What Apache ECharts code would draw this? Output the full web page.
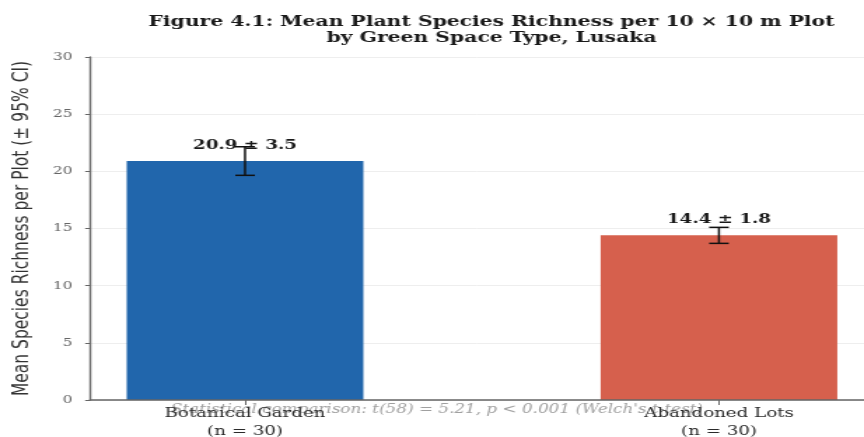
<!DOCTYPE html>
<html>
<head>
<meta charset="utf-8">
<script src="https://cdn.jsdelivr.net/npm/echarts@6/dist/echarts.min.js"></script>
<style>
  html, body { margin: 0; padding: 0; background: #fff; overflow: hidden; }
  /* the figure is laid out at 617px wide and widened to fill the 864px window */
  #chart { width: 617px; height: 437px; transform: scaleX(1.4003); transform-origin: 0 0; }
</style>
</head>
<body>
<div id="chart"></div>
<script>
// Green space types and plot counts
const categories = ['Botanical Garden', 'Abandoned Lots'];
const plotCounts = [30, 30];
// Mean species richness per plot, its SD (labelled) and 95% CI half-width (error bars)
const meanRichness = [20.9, 14.4];
const sdRichness = [3.5, 1.8];
const ciHalfWidth = [1.25, 0.7];
const barColors = ['#2166ac', '#d6604d'];
const yTicks = [0, 5, 10, 15, 20, 25, 30];
const statsNote = "Statistical comparison: t(58) = 5.21, p < 0.001 (Welch's t-test)";

const positions = categories.map((_, i) => i);
const barData = positions.map((x, i) => ({
  value: [x, meanRichness[i]],
  itemStyle: { color: barColors[i] }
}));
const errData = positions.map((x, i) => [x, meanRichness[i] - ciHalfWidth[i], meanRichness[i] + ciHalfWidth[i]]);

const serif = '"DejaVu Serif", serif';
const chart = echarts.init(document.getElementById('chart'));
chart.setOption({
  animation: false,
  backgroundColor: '#fff',
  title: {
    text: 'Figure 4.1: Mean Plant Species Richness per 10 × 10 m Plot\nby Green Space Type, Lusaka',
    left: 346,
    top: 9,
    textAlign: 'center',
    textStyle: { fontFamily: serif, fontWeight: 'bold', fontSize: 14.5, lineHeight: 16, color: '#1a1a1a' }
  },
  grid: { left: 64.3, right: 0, top: 57, bottom: 37, containLabel: false, outerBoundsMode: 'none' },
  xAxis: {
    type: 'value',
    min: -0.327,
    max: 1.306,
    z: 3,
    axisLine: { show: true, lineStyle: { color: '#666', width: 1.5 } },
    axisTick: { show: true, customValues: positions, length: 5, lineStyle: { color: '#666' } },
    axisLabel: {
      customValues: positions,
      formatter: v => categories[Math.round(v)] + '\n(n = ' + plotCounts[Math.round(v)] + ')',
      fontFamily: serif, fontSize: 13, lineHeight: 18, color: '#2a2a2a', margin: 5
    },
    splitLine: { show: false }
  },
  yAxis: {
    type: 'value',
    min: 0,
    max: 30,
    interval: 5,
    name: 'Mean Species Richness per Plot (± 95% CI)',
    nameLocation: 'middle',
    nameGap: 40,
    nameTextStyle: { fontFamily: '"DejaVu Sans", sans-serif', fontSize: 15.5, color: '#333' },
    axisLine: { show: true, onZero: false, lineStyle: { color: '#666', width: 1.4 } },
    axisTick: { show: true, length: 3.5, lineStyle: { color: '#666' } },
    axisLabel: {
      formatter: v => yTicks.includes(v) ? String(v) : '',
      fontFamily: serif, fontSize: 11, color: '#666', margin: 12.5
    },
    splitLine: { show: true, lineStyle: { color: '#eeeeee', width: 1 } }
  },
  series: [
    {
      type: 'bar',
      data: barData,
      barWidth: 169,
      z: 2,
      label: {
        show: true,
        position: 'top',
        distance: 9,
        formatter: p => meanRichness[p.dataIndex].toFixed(1) + ' ± ' + sdRichness[p.dataIndex].toFixed(1),
        fontFamily: serif, fontWeight: 'bold', fontSize: 13, color: '#1a1a1a'
      }
    },
    {
      type: 'custom',
      z: 5,
      data: errData,
      renderItem: (params, api) => {
        const x = api.value(0);
        const lo = api.coord([x, api.value(1)]);
        const hi = api.coord([x, api.value(2)]);
        const cap = 7;
        const style = { stroke: '#111', lineWidth: 1.5 };
        return {
          type: 'group',
          children: [
            { type: 'line', shape: { x1: lo[0], y1: lo[1], x2: hi[0], y2: hi[1] }, style },
            { type: 'line', shape: { x1: lo[0] - cap, y1: lo[1], x2: lo[0] + cap, y2: lo[1] }, style },
            { type: 'line', shape: { x1: hi[0] - cap, y1: hi[1], x2: hi[0] + cap, y2: hi[1] }, style }
          ]
        };
      }
    }
  ],
  graphic: [
    {
      type: 'text',
      x: 312,
      y: 404,
      z: -1,
      style: {
        text: statsNote,
        align: 'center',
        verticalAlign: 'top',
        fontFamily: serif,
        fontStyle: 'italic',
        fontSize: 12,
        fill: '#a0a0a0'
      }
    }
  ]
});
</script>
</body>
</html>
